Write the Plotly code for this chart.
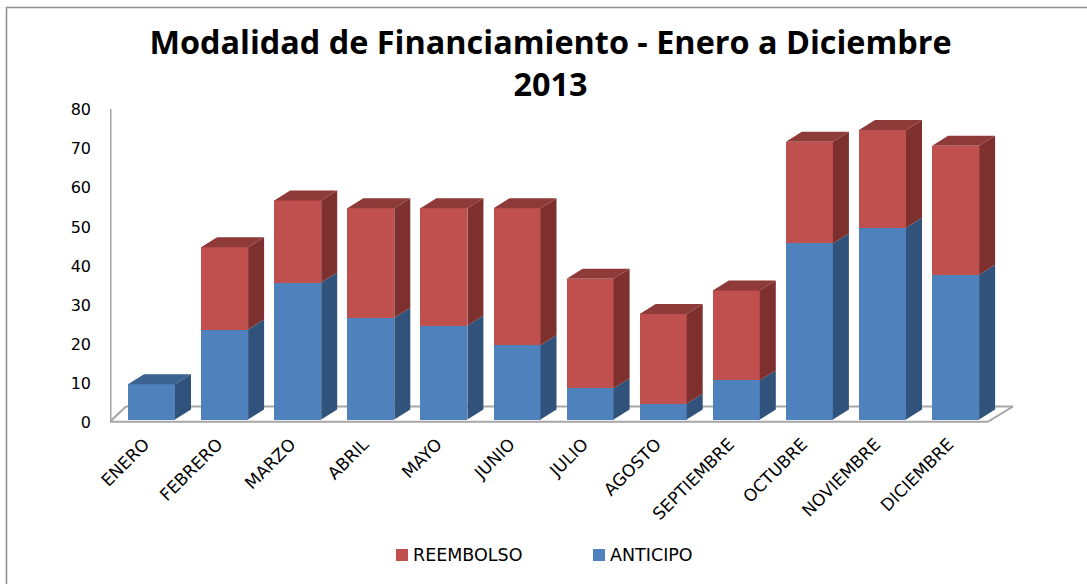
import plotly.graph_objects as go

MONTHS = ["ENERO", "FEBRERO", "MARZO", "ABRIL", "MAYO", "JUNIO", "JULIO", "AGOSTO",
          "SEPTIEMBRE", "OCTUBRE", "NOVIEMBRE", "DICIEMBRE"]
ANTICIPO = [9, 23, 35, 26, 24, 19, 8, 4, 10, 45, 49, 37]
REEMBOLSO = [0, 21, 21, 28, 30, 35, 28, 23, 23, 26, 25, 33]
Y_TICKS = [0, 10, 20, 30, 40, 50, 60, 70, 80]

W, H = 1087, 584
PX_L, PX_R, PX_T, PX_B = 110, 1014, 100, 423
PX_X0, PX_STEP = 151.5, 73.1
PX_Y0, PX_UNIT = 419.5, 3.912


def xd(p):
    return (p - PX_X0) / PX_STEP


def yd(p):
    return (PX_Y0 - p) / PX_UNIT


BAR_W = 47 / PX_STEP
DX = 16 / PX_STEP
DY = 10 / PX_UNIT
BLUE, BLUE_TOP, BLUE_SIDE = "#4F81BD", "#3B6291", "#31527B"
RED, RED_TOP, RED_SIDE = "#C0504D", "#8E3A38", "#7E302E"
GRID = "#A6A6A6"
FONT = "Open Sans, Liberation Sans, sans-serif"
LABEL_FONT = "DejaVu Sans, sans-serif"


def poly(trace_pts, color):
    xs, ys = [], []
    for pts in trace_pts:
        for a, b in pts + [pts[0]]:
            xs.append(a)
            ys.append(b)
        xs.append(None)
        ys.append(None)
    return go.Scatter(x=xs, y=ys, mode="lines", fill="toself", fillcolor=color,
                      line=dict(width=0), showlegend=False, hoverinfo="skip")


fig = go.Figure()
idx = list(range(len(MONTHS)))
fig.add_bar(x=idx, y=ANTICIPO, name="ANTICIPO", width=BAR_W, marker=dict(color=BLUE, line=dict(width=0)), showlegend=False)
fig.add_bar(x=idx, y=REEMBOLSO, name="REEMBOLSO", width=BAR_W, marker=dict(color=RED, line=dict(width=0)), showlegend=False)

blue_side, blue_top, red_side, red_top = [], [], [], []
for i, a, r in zip(idx, ANTICIPO, REEMBOLSO):
    xl, xr = i - BAR_W / 2, i + BAR_W / 2
    t = a + r
    blue_side.append([(xr, 0), (xr + DX, DY), (xr + DX, a + DY), (xr, a)])
    top = [(xl, t), (xl + DX, t + DY), (xr + DX, t + DY), (xr, t)]
    if r > 0:
        red_side.append([(xr, a), (xr + DX, a + DY), (xr + DX, t + DY), (xr, t)])
        red_top.append(top)
    else:
        blue_top.append(top)
fig.add_trace(poly(blue_side, BLUE_SIDE))
fig.add_trace(poly(blue_top, BLUE_TOP))
fig.add_trace(poly(red_side, RED_SIDE))
fig.add_trace(poly(red_top, RED_TOP))

# floor outline and frame
shapes = []
floor = [(110, 421.7), (126, 406.5), (1013, 406.5), (988, 421.7), (110, 421.7)]
for (x0, y0), (x1, y1) in zip(floor[:-1], floor[1:]):
    shapes.append(dict(type="line", xref="x", yref="y", x0=xd(x0), y0=yd(y0), x1=xd(x1), y1=yd(y1),
                       line=dict(color=GRID, width=2), layer="below"))
shapes.append(dict(type="line", xref="x", yref="y", x0=xd(110.5), y0=yd(109), x1=xd(110.5), y1=yd(422),
                   line=dict(color=GRID, width=2), layer="below"))
plot_w = PX_R - PX_L
plot_h = PX_B - PX_T


def px(p):
    return (p - PX_L) / plot_w


def py(p):
    return (PX_B - p) / plot_h


shapes.append(dict(type="rect", xref="paper", yref="paper",
                   x0=px(6.5), x1=px(1100), y0=py(600), y1=py(7.5),
                   line=dict(color="#8C8C8C", width=1.5), layer="below"))

# legend, drawn to keep the reference's tight swatch-to-text gap
annotations = []
for name, color, sw, tx in [("REEMBOLSO", RED, 396, 411), ("ANTICIPO", BLUE, 593, 608)]:
    shapes.append(dict(type="rect", xref="paper", yref="paper", x0=px(sw), x1=px(sw + 12),
                       y0=py(561), y1=py(549), fillcolor=color, line=dict(width=0)))
    annotations.append(dict(text=name, xref="paper", yref="paper", x=px(tx), y=py(555), xanchor="left",
                            yanchor="middle", showarrow=False,
                            font=dict(size=17.5, family=LABEL_FONT, color="black")))

TICK_SHIFT_Y = 3 / PX_UNIT
TICK_SHIFT_X = 7 / PX_STEP

fig.update_layout(
    width=W, height=H, barmode="stack", bargap=0, plot_bgcolor="white", paper_bgcolor="white",
    margin=dict(l=PX_L, r=W - PX_R, t=PX_T, b=H - PX_B, pad=0),
    font=dict(family=FONT, color="black", size=15),
    title=dict(text="<b>Modalidad de Financiamiento - Enero a Diciembre<br>2013</b>",
               x=550.5 / W, xanchor="center", y=1 - 54 / H, yanchor="top",
               font=dict(size=32.4, family=FONT, color="black")),
    showlegend=False,
    shapes=shapes,
    annotations=annotations,
    xaxis=dict(range=[xd(PX_L), xd(PX_R)], tickvals=[i - TICK_SHIFT_X for i in idx], ticktext=MONTHS,
               tickangle=-45, showgrid=False, zeroline=False, showline=False, ticks="", ticklabelstandoff=7,
               tickfont=dict(size=17, family=LABEL_FONT)),
    yaxis=dict(range=[yd(PX_B), yd(PX_T)], tickvals=[v - TICK_SHIFT_Y for v in Y_TICKS],
               ticktext=[str(v) for v in Y_TICKS], showgrid=False, zeroline=False, showline=False,
               ticks="", ticklabelstandoff=18, tickfont=dict(size=16, family=LABEL_FONT)),
)

fig.write_html("out.html", config={"displayModeBar": False},
               post_script="document.body.style.margin='0';document.body.style.overflow='hidden';")
